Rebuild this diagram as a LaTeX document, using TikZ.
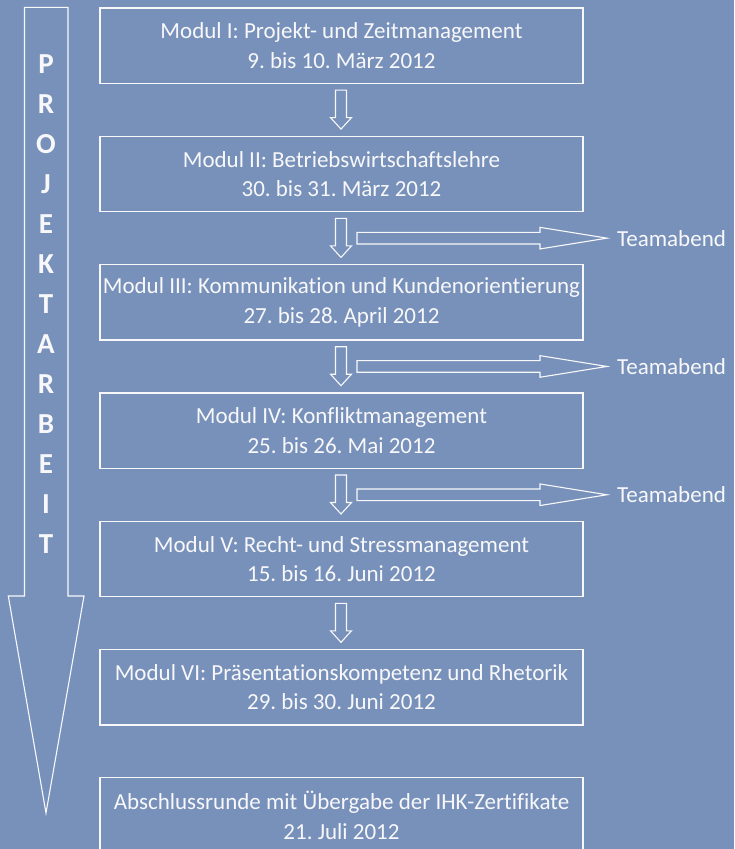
\documentclass[tikz,border=0pt]{standalone}
\usepackage{fontspec}
\setmainfont{Carlito}[Ligatures=NoCommon]
\frenchspacing
\usetikzlibrary{calc}
\definecolor{bg}{RGB}{120,145,186}
\definecolor{fg}{RGB}{248,248,250}
\tikzset{
  modbox/.style={draw=fg, line width=1.3pt, minimum width=483pt, minimum height=75.5pt, inner sep=0pt, text=fg, align=center, font=\fontsize{23}{29.5}\selectfont, anchor=north},
  blockarr/.style={draw=fg, line width=1.1pt, line join=miter},
  teamlbl/.style={text=fg, anchor=west, inner sep=0pt, font=\fontsize{23}{29}\selectfont},
  sidelbl/.style={text=fg, align=center, inner sep=0pt, font=\fontsize{29}{40}\selectfont\bfseries}
}
\newcommand\downarr[2]{%
  \draw[blockarr] ($(#1.south)+(-6,6)$) -- ($(#1.south)+(5,6)$) -- ($(#2.north)+(5,-18)$) -- ($(#2.north)+(10,-18)$) -- ($(#2.north)+(-0.5,-6.5)$) -- ($(#2.north)+(-11,-18)$) -- ($(#2.north)+(-6,-18)$) -- cycle;}
\newcommand\teamarr[1]{%
  \draw[blockarr] ($(#1.west)+(-260,-5.8)$) -- ($(#1.west)+(-77,-5.8)$) -- ($(#1.west)+(-77,-10.8)$) -- ($(#1.west)+(-10,0)$) -- ($(#1.west)+(-77,10.8)$) -- ($(#1.west)+(-77,5.8)$) -- ($(#1.west)+(-260,5.8)$) -- cycle;}
\begin{document}
\begin{tikzpicture}[x=1pt,y=-1pt]
\fill[bg] (0,0) rectangle (734,849);
\useasboundingbox (0,0) rectangle (734,849);
\clip (0,0) rectangle (734,849);
% big arrow
\draw[blockarr] (24.5,7.3) -- (68,7.3) -- (68,596) -- (84,596) -- (46,813) -- (8.3,596) -- (24.5,596) -- cycle;
\node[sidelbl] (pa) at (46,304.5) {P\\R\\O\\J\\E\\K\\T\\A\\R\\B\\E\\I\\T};
% boxes
\node[modbox] (b1) at (341.5,7.3) {Modul I: Projekt- und Zeitmanagement\\9. bis 10. März 2012};
\node[modbox] (b2) at (341.5,135.6) {Modul II: Betriebswirtschaftslehre\\30. bis 31. März 2012};
\node[modbox] (b3) at (341.5,263.9) {Modul III: Kommunikation und Kundenorientierung\\27. bis 28. April 2012};
\node[modbox] (b4) at (341.5,392.2) {Modul IV: Konfliktmanagement\\25. bis 26. Mai 2012};
\node[modbox] (b5) at (341.5,520.5) {Modul V: Recht- und Stressmanagement\\15. bis 16. Juni 2012};
\node[modbox] (b6) at (341.5,648.8) {Modul VI: Präsentationskompetenz und Rhetorik\\29. bis 30. Juni 2012};
\node[modbox] (b7) at (341.5,777.1) {Abschlussrunde mit Übergabe der IHK-Zertifikate\\21. Juli 2012};
% down arrows
\downarr{b1}{b2}
\downarr{b2}{b3}
\downarr{b3}{b4}
\downarr{b4}{b5}
\downarr{b5}{b6}
% Teamabend
\node[teamlbl] (t1) at ($(b2.south)!0.5!(b3.north)+(275.5,0)$) {Teamabend};
\node[teamlbl] (t2) at ($(b3.south)!0.5!(b4.north)+(275.5,0)$) {Teamabend};
\node[teamlbl] (t3) at ($(b4.south)!0.5!(b5.north)+(275.5,0)$) {Teamabend};
\teamarr{t1}
\teamarr{t2}
\teamarr{t3}
\end{tikzpicture}
\end{document}
